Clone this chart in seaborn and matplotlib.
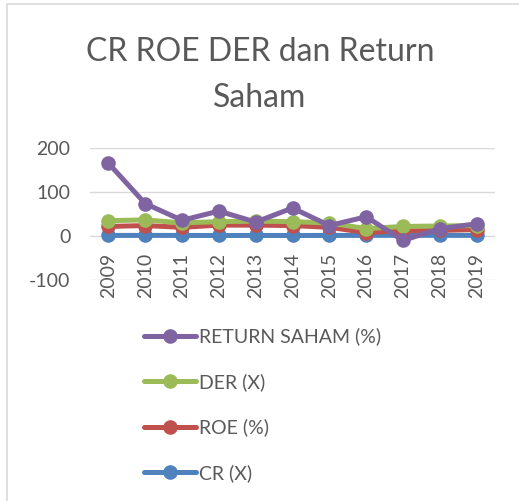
import matplotlib
matplotlib.use("Agg")
import matplotlib.pyplot as plt
import matplotlib.patches as mpatches
from matplotlib.lines import Line2D
import seaborn as sns
import pandas as pd

years = ["2009", "2010", "2011", "2012", "2013", "2014", "2015", "2016", "2017", "2018", "2019"]
cr = [1.5, 1.6, 1.5, 1.4, 1.5, 1.4, 1.5, 1.6, 1.8, 1.7, 1.6]
roe = [22, 24, 20, 25, 25, 24, 20, 8, 12, 13, 15]
der = [35, 37, 30, 33, 34, 33, 30, 17, 22, 23, 24]
ret = [166, 74, 36, 57, 32, 64, 24, 44, -10, 17, 28]

series_names = ["CR (X)", "ROE (%)", "DER (X)", "RETURN SAHAM (%)"]
series_vals = [cr, roe, der, ret]
colors = ["#4F81BD", "#C0504D", "#9BBB59", "#8064A2"]
yticks = [-100, 0, 100, 200]

rows = []
for name, vals in zip(series_names, series_vals):
    for i, (y, v) in enumerate(zip(years, vals)):
        rows.append({"idx": i, "year": y, "series": name, "value": v})
df = pd.DataFrame(rows)

sns.set_theme(style="white")
plt.rcParams["font.family"] = ["Lato", "DejaVu Sans"]

W, H = 519, 501
fig = plt.figure(figsize=(W / 100, H / 100), dpi=100)
ax = fig.add_axes([90 / W, 1 - 280 / H, 405 / W, (280 - 148.3) / H])

for name, col in zip(series_names, colors):
    sub = df[df["series"] == name]
    sns.lineplot(data=sub, x="idx", y="value", ax=ax, color=col, linewidth=3.6,
                 marker="o", markersize=10.5, markeredgewidth=0, legend=False,
                 solid_capstyle="round")

ax.set_xlim(-0.5, len(years) - 0.5)
ax.set_ylim(-100, 200)
ax.set_yticks(yticks)
ax.set_yticklabels([str(t) for t in yticks], fontsize=14, color="#595959")
ax.set_xticks(range(len(years)))
ax.set_xticklabels(years, rotation=90, fontsize=14, color="#595959")
ax.tick_params(axis="x", pad=-19.5, length=0)
ax.tick_params(axis="y", pad=14, length=0)
ax.grid(axis="y", color="#D9D9D9", linewidth=1)
ax.set_axisbelow(True)
for s in ax.spines.values():
    s.set_visible(False)
ax.set_xlabel("")
ax.set_ylabel("")

fig.text(260 / W, 1 - 52 / H, "CR ROE DER dan Return", ha="center", va="center",
         fontsize=23, color="#595959")
fig.text(260 / W, 1 - 98 / H, "Saham", ha="center", va="center",
         fontsize=23, color="#595959")

fig.patches.append(mpatches.Rectangle((7 / W, -0.01), 1.0, 1 - 4 / H + 0.01,
                                      transform=fig.transFigure, fill=False,
                                      edgecolor="#D9D9D9", linewidth=1.2))

handles = [Line2D([], [], color=c, linewidth=3.6, marker="o", markersize=10.5,
                  markeredgewidth=0, solid_capstyle="round") for c in colors]
handles = handles[::-1]
labels = series_names[::-1]
fig.legend(handles, labels, loc="upper left", bbox_to_anchor=(126 / W, 1 - 310 / H),
           frameon=False, fontsize=14, labelcolor="#595959", handlelength=2.7,
           handletextpad=0.15, labelspacing=1.42)

fig.savefig("out.png", dpi=100)
